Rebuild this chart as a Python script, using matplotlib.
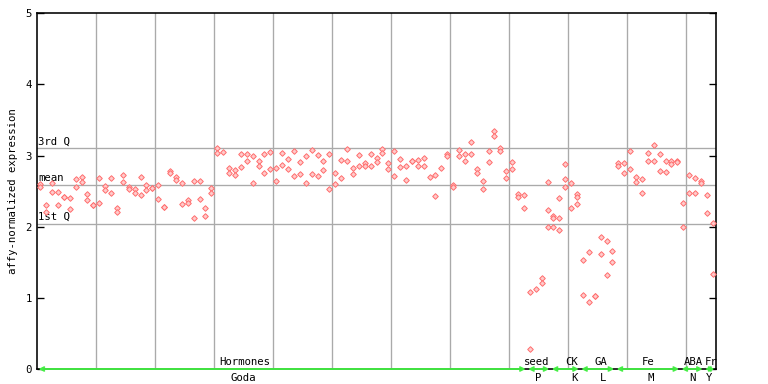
import numpy as np
import matplotlib
matplotlib.use("Agg")
import matplotlib.pyplot as plt

nan = np.nan
# expression values per sample (replicate 1, replicate 2)
rep1 = [2.60, 2.31, 2.61, 2.49, 2.42, 2.40, 2.67, 2.70, 2.46, 2.30,
        2.68, 2.57, 2.68, 2.27, 2.73, 2.56, 2.53, 2.70, 2.58, 2.55,
        2.59, 2.28, 2.79, 2.70, 2.61, 2.38, 2.64, 2.64, 2.26, 2.54,
        3.10, 3.05, 2.82, 2.80, 3.02, 3.02, 3.00, 2.93, 3.02, 3.05,
        2.82, 3.03, 2.95, 3.07, 2.91, 3.00, 3.08, 3.01, 2.93, 3.02,
        2.76, 2.94, 3.09, 2.82, 3.01, 2.89, 3.02, 2.96, 3.09, 2.89,
        3.07, 2.95, 2.86, 2.93, 2.94, 2.96, 2.70, 2.73, 2.82, 3.02,
        2.59, 3.08, 3.02, 3.19, 2.81, 2.64, 3.07, 3.34, 3.10, 2.78,
        2.91, 2.46, 2.44, 1.08, 1.12, 1.28, 2.63, 2.15, 2.41, 2.88,
        2.61, 2.46, 1.53, 1.64, 1.02, 1.85, 1.80, 1.66, 2.89, 2.89,
        3.06, 2.70, 2.67, 3.03, 3.15, 3.02, 2.92, 2.93, 2.93, 2.33,
        2.72, 2.68, 2.64, 2.44, 2.05]
rep2 = [2.56, 2.20, 2.49, 2.31, 2.42, 2.25, 2.56, 2.63, 2.38, 2.30,
        2.33, 2.51, 2.47, 2.20, 2.63, 2.53, 2.47, 2.45, 2.51, 2.55,
        2.39, 2.28, 2.75, 2.66, 2.32, 2.34, 2.12, 2.39, 2.15, 2.47,
        3.03, nan, 2.75, 2.72, 2.84, 2.93, 2.61, 2.85, 2.75, 2.81,
        2.64, 2.87, 2.81, 2.71, 2.74, 2.61, 2.74, 2.71, 2.80, 2.53,
        2.60, 2.68, 2.93, 2.74, 2.86, 2.86, 2.85, 2.91, 3.03, 2.81,
        2.71, 2.84, 2.65, 2.93, 2.86, 2.86, nan, 2.43, nan, 2.99,
        2.56, 3.00, 2.93, 3.02, 2.75, 2.53, 2.91, 3.28, 3.07, 2.69,
        2.81, 2.42, 2.26, 0.28, nan, 1.21, 2.23, 2.12, 2.12, 2.67,
        2.26, 2.42, 1.04, 0.94, 1.02, 1.61, 1.32, 1.51, 2.86, 2.75,
        2.81, 2.63, 2.47, 2.92, 2.92, 2.79, 2.77, 2.88, 2.91, 1.99,
        2.47, 2.47, 2.61, 2.19, 1.33]
rep3_samples = [86, 87, 88, 89, 91]
rep3 = [2.00, 2.00, 1.95, 2.56, 2.32]

stat_labels = ["3rd Q", "mean", "1st Q"]
stat_values = [3.10, 2.59, 2.04]

groups = ["Hormones", "seed", "CK", "GA", "Fe", "ABA", "Fr"]
studies = ["Goda", "P", "K", "L", "M", "N", "Y"]
group_start = [0, 83, 87, 92, 98, 109, 113]
group_end = [82, 86, 91, 97, 108, 112, 114]
group_label_pos = [34.7, 84.2, 90.1, 95.0, 103.0, 110.8, 113.7]
study_label_pos = [34.4, 84.4, 90.5, 95.4, 103.5, 110.5, 113.3]

n = len(rep1)
x = np.arange(n)

fig = plt.figure(figsize=(8, 4), dpi=96)
ax = fig.add_axes([37.3 / 768, 1 - 369 / 384, (715.7 - 37.3) / 768, (369 - 13.3) / 384])
mono = "DejaVu Sans Mono"
fs = 8

ax.set_xlim(-0.5, n - 0.5)
ax.set_ylim(0, 5)

for gx in np.arange(9.5, n - 1, 10):
    ax.axvline(gx, color="#aaaaaa", lw=1, zorder=1)
for lab, v in zip(stat_labels, stat_values):
    ax.axhline(v, color="#aaaaaa", lw=1, zorder=1)
    ax.text(-0.4, v + 0.03, lab, fontsize=fs, family=mono, va="bottom", ha="left", zorder=3)

mk = dict(marker="D", ls="none", markersize=3.0, mfc="#ffcaca", mec="#ff6a6a", mew=0.7, zorder=4)
ax.plot(x, rep1, **mk)
ax.plot(x, rep2, **mk)
ax.plot(rep3_samples, rep3, **mk)

for g, s, a, b, gp, sp in zip(groups, studies, group_start, group_end, group_label_pos, study_label_pos):
    ax.annotate("", xy=(a - 0.3, 0), xytext=(b + 0.3, 0),
                arrowprops=dict(arrowstyle="<->", color="#44ee44", lw=1.4,
                                shrinkA=0, shrinkB=0, mutation_scale=7),
                annotation_clip=False, zorder=5)
    ax.text(gp, 0.03, g, fontsize=fs, family=mono, ha="center", va="bottom", clip_on=False)
    ax.text(sp, -0.05, s, fontsize=fs, family=mono, ha="center", va="top", clip_on=False)

ax.set_yticks([0, 1, 2, 3, 4, 5])
ax.set_yticklabels(["0", "1", "2", "3", "4", "5"], family=mono, fontsize=fs)
ax.tick_params(axis="y", direction="in", length=5, width=1, right=True, left=True, pad=4)
ax.set_xticks([])
for sp_ in ax.spines.values():
    sp_.set_color("black")
    sp_.set_linewidth(1.2)
ax.set_ylabel("affy-normalized expression", family=mono, fontsize=fs, labelpad=6)

fig.savefig("out.png", dpi=96)
